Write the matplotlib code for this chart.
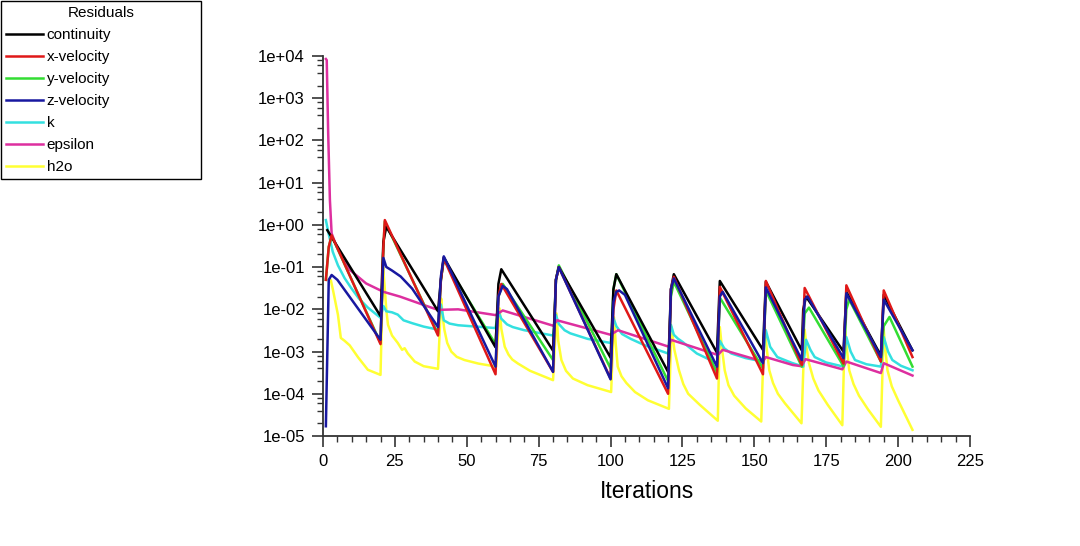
import matplotlib
matplotlib.use("Agg")
import matplotlib.pyplot as plt
from matplotlib.ticker import LogLocator, FuncFormatter, MultipleLocator, NullFormatter

# ---------------- data ----------------
series_names = ["continuity", "x-velocity", "y-velocity", "z-velocity", "k", "epsilon", "h2o"]
series_colors = ["#000000", "#e01818", "#33dd33", "#1818a0", "#33e0e0", "#dd2f9f", "#ffff33"]

cont_it = [1.5, 20, 21, 22, 40, 41, 42, 60, 61, 62, 80, 81, 82, 100, 101, 102, 120, 121, 122,
           137, 138, 153, 154, 166.5, 167, 168, 181, 182, 194, 195, 205]
cont_val = [0.75, 6.9e-3, 0.4, 0.9, 9e-3, 0.05, 0.17, 1.26e-3, 0.04, 0.089, 1.05e-3, 0.05, 0.1,
            7.2e-4, 0.03, 0.068, 3.3e-4, 0.03, 0.068, 9.4e-4, 0.047, 1.1e-3, 0.045,
            1.07e-3, 0.01, 0.02, 1e-3, 0.026, 8e-4, 0.022, 1.07e-3]

xvel_it = [1, 2, 3, 20, 21, 21.5, 40, 41, 42, 60, 61, 62, 80, 81, 82, 100, 101, 102, 120, 121, 122,
           137, 138, 153, 154, 166.5, 167.5, 181, 182, 194, 195, 205]
xvel_val = [0.05, 0.3, 0.57, 1.5e-3, 0.3, 1.3, 2.4e-3, 0.05, 0.16, 2.9e-4, 0.02, 0.04, 3.3e-4,
            0.05, 0.1, 2.3e-4, 0.01, 0.028, 1e-4, 0.03, 0.059, 2.3e-4, 0.034, 2.9e-4, 0.047,
            4.8e-4, 0.032, 5.2e-4, 0.037, 5.8e-4, 0.028, 7.4e-4]

yvel_it = [1, 2, 3, 20, 21, 21.5, 40, 41, 42, 60, 61, 62.5, 80, 81, 82, 100, 101, 102, 120, 121, 122,
           137, 138, 153, 154, 166.5, 167.5, 169, 181, 182, 183, 194, 195, 197, 205]
yvel_val = [0.05, 0.3, 0.55, 1.6e-3, 0.3, 1.2, 2.6e-3, 0.05, 0.15, 1.5e-3, 0.02, 0.04, 6.3e-4,
            0.05, 0.11, 4e-4, 0.03, 0.068, 2e-4, 0.02, 0.045, 3.2e-4, 0.019, 4e-4, 0.028,
            4.4e-4, 8e-3, 0.011, 4.5e-4, 0.01, 0.017, 5.8e-4, 4e-3, 6.6e-3, 4.4e-4]

zvel_it = [1, 2, 3, 5, 20, 21, 22, 24, 27, 31, 40, 41, 42, 60, 61, 62.5, 64, 80, 81, 82, 100, 101,
           102, 103, 105, 120, 121, 122, 137, 138, 139, 153, 154, 166.5, 167.5, 168.5, 181, 182, 194,
           195, 205]
zvel_val = [1.7e-5, 0.05, 0.065, 0.05, 1.9e-3, 0.165, 0.101, 0.083, 0.06, 0.031, 3.8e-3, 0.06,
            0.18, 4.4e-4, 0.02, 0.036, 0.03, 3.3e-4, 0.05, 0.1, 2.2e-4, 0.015, 0.026, 0.028, 0.022,
            1.35e-4, 0.03, 0.054, 4.4e-4, 0.02, 0.026, 5.3e-4, 0.033, 6.3e-4, 0.017, 0.02, 7e-4,
            0.024, 7.4e-4, 0.017, 1.07e-3]

k_it = [1, 2, 3.4, 5.2, 7.5, 9.8, 12.5, 15.6, 20, 21, 22, 24, 26, 28, 31, 35, 40, 41, 42, 44, 47,
        60, 61, 62, 64, 66, 70, 80, 81, 82, 84, 86, 92, 100, 101, 102, 104, 107, 112, 120, 121,
        122, 123.5, 125, 130, 137, 138, 139.5, 142, 147, 153, 154, 155.5, 158, 163, 167, 168, 169.5,
        171, 175, 181, 182, 183.5, 185, 189, 194, 195, 196.5, 198, 201, 205]
k_val = [1.3, 0.6, 0.23, 0.11, 0.055, 0.032, 0.018, 0.011, 6.3e-3, 0.012, 9e-3, 8.5e-3, 7.5e-3,
         5.5e-3, 4.7e-3, 3.9e-3, 3.3e-3, 0.013, 5.5e-3, 4.6e-3, 4.2e-3, 3.6e-3, 9e-3, 6e-3, 4.4e-3,
         3.8e-3, 3.2e-3, 2.4e-3, 7.4e-3, 4.5e-3, 3.2e-3, 2.7e-3, 2.0e-3, 1.6e-3, 6.2e-3, 4e-3,
         2.6e-3, 2e-3, 1.4e-3, 9e-4, 4.3e-3, 2.5e-3, 2.0e-3, 1.7e-3, 9e-4, 5.3e-4, 1.8e-3,
         1.2e-3, 9e-4, 7e-4, 5.8e-4, 3.2e-3, 1.3e-3, 7.4e-4, 5.4e-4, 4.4e-4, 1.9e-3, 1.1e-3,
         7.4e-4, 5.5e-4, 4.4e-4, 2.2e-3, 1.0e-3, 6.3e-4, 5e-4, 4.4e-4, 2.2e-3, 1.0e-3, 6.3e-4,
         4.6e-4, 3.6e-4]

eps_it = [1, 1.3, 1.8, 2.4, 3, 4.8, 9.4, 15, 21, 26.8, 35, 40, 47, 60, 62.5, 80, 81.4, 100, 102.6,
          120.3, 121, 137.3, 139, 153, 154, 163.4, 166.4, 167.8, 180.6, 182, 194, 195, 205]
eps_val = [8500, 8000, 150, 3.9, 0.63, 0.3, 0.085, 0.041, 0.026, 0.02, 0.0127, 0.0097, 0.01,
           7.3e-3, 9.4e-3, 4.1e-3, 5.5e-3, 2.5e-3, 3.2e-3, 1.3e-3, 1.9e-3, 8.3e-4, 1.1e-3,
           5.8e-4, 7.4e-4, 4.8e-4, 4.5e-4, 6.6e-4, 3.8e-4, 5.8e-4, 3.1e-4, 5.3e-4, 2.7e-4]

h2o_it = [2, 2.7, 3.5, 4.3, 5.2, 6.2, 7.5, 9.3, 12.2, 15.6, 20,
          20.9, 21.4, 22.0, 22.6, 24, 26, 27.5, 28.4, 29.5, 31.9, 35, 40,
          41.1, 41.6, 42.2, 43.2, 44.6, 46.5, 49.2, 54, 60.2,
          61.4, 62, 63.2, 64.5, 65.8, 67.8, 72, 80,
          81.2, 81.8, 82.9, 84.5, 86.9, 92, 100.2,
          101.2, 101.8, 102.5, 103.8, 105.5, 108.5, 113, 120.3,
          121.2, 122.2, 123.8, 125.3, 127, 131, 137.3,
          138, 138.8, 139.7, 141, 143, 147, 152.4,
          153.5, 154.3, 155.2, 156.5, 158.2, 160.6, 166.4,
          167.5, 168.2, 169, 170.5, 172.3, 175.5, 180.6,
          181.5, 182.2, 183, 184.5, 186.4, 189.5, 194,
          195, 195.6, 196.3, 197.8, 200, 205]
h2o_val = [0.05, 0.05, 0.028, 0.015, 7.4e-3, 2.1e-3, 1.8e-3, 1.4e-3, 7.3e-4, 3.7e-4, 2.8e-4,
           0.1, 0.037, 0.01, 4.3e-3, 2.4e-3, 1.6e-3, 1.1e-3, 1.2e-3, 9e-4, 5.8e-4, 4.5e-4, 3.9e-4,
           0.018, 7e-3, 3.3e-3, 1.6e-3, 1.0e-3, 7.5e-4, 6.3e-4, 5.2e-4, 4.4e-4,
           0.0105, 3.5e-3, 1.3e-3, 8.5e-4, 6.5e-4, 5.2e-4, 3.5e-4, 2.1e-4,
           8e-3, 1.8e-3, 6.3e-4, 3.5e-4, 2.3e-4, 1.6e-4, 1.1e-4,
           6.5e-3, 1.5e-3, 4.4e-4, 2.6e-4, 1.8e-4, 1.1e-4, 7e-5, 4.4e-5,
           3.8e-3, 1.1e-3, 3.6e-4, 1.7e-4, 1.0e-4, 5.5e-5, 2.3e-5,
           3.8e-3, 1.1e-3, 3.6e-4, 1.6e-4, 9e-5, 4.5e-5, 2.2e-5,
           4.6e-3, 1.2e-3, 3.6e-4, 1.8e-4, 1e-4, 6e-5, 2e-5,
           3.3e-3, 1.2e-3, 5.3e-4, 2.3e-4, 1.2e-4, 5.5e-5, 1.8e-5,
           3.8e-3, 1.1e-3, 3.6e-4, 1.7e-4, 9e-5, 4.3e-5, 1.65e-5,
           3.3e-3, 1.1e-3, 3.6e-4, 1.5e-4, 7e-5, 1.4e-5]

x_ticks = [0, 25, 50, 75, 100, 125, 150, 175, 200, 225]
x_label = "Iterations"
legend_title = "Residuals"

# ---------------- plot ----------------
plt.rcParams['font.family'] = ['Liberation Sans', 'DejaVu Sans']

fig = plt.figure(figsize=(10.8, 5.46), dpi=100)
ax = fig.add_axes([323 / 1080, 1 - 436 / 546, (970 - 323) / 1080, (436 - 56) / 546])

all_data = [(cont_it, cont_val), (xvel_it, xvel_val), (yvel_it, yvel_val), (zvel_it, zvel_val),
            (k_it, k_val), (eps_it, eps_val), (h2o_it, h2o_val)]
draw_order = [6, 4, 5, 2, 0, 1, 3]
lines = {}
for i in draw_order:
    xs, ys = all_data[i]
    ln, = ax.plot(xs, ys, color=series_colors[i], lw=1.8, label=series_names[i])
    lines[i] = ln

ax.set_yscale('log')
ax.set_xlim(0, 225)
ax.set_ylim(1e-5, 1e4)
ax.set_xticks(x_ticks)
ax.xaxis.set_minor_locator(MultipleLocator(5))
ax.yaxis.set_major_locator(LogLocator(base=10, numticks=20))
ax.yaxis.set_minor_locator(LogLocator(base=10, subs=(2, 4, 6, 8), numticks=20))
ax.yaxis.set_minor_formatter(NullFormatter())
ax.yaxis.set_major_formatter(FuncFormatter(lambda v, p: f"{v:.0e}"))

for s in ['top', 'right']:
    ax.spines[s].set_visible(False)
for s in ['left', 'bottom']:
    ax.spines[s].set_color('#333333')
    ax.spines[s].set_linewidth(1.3)

ax.tick_params(axis='both', which='major', length=8, width=1.2, color='#333333',
               labelsize=12, pad=5)
ax.tick_params(axis='both', which='minor', length=4, width=1.0, color='#333333')
ax.set_xlabel(x_label, fontsize=16.5, labelpad=8)

handles = [lines[i] for i in range(len(series_names))]
leg = fig.legend(handles, series_names, title=legend_title, loc='upper left',
                 bbox_to_anchor=(1 / 1080, 1 - 178 / 546, 200 / 1080, 177 / 546),
                 mode='expand', fontsize=11, title_fontsize=11, frameon=True,
                 fancybox=False, edgecolor='black', framealpha=1,
                 handlelength=2.4, handletextpad=0.25, labelspacing=0.52,
                 borderpad=0.35, borderaxespad=0)
leg.get_frame().set_linewidth(1.0)

fig.savefig("out.png", dpi=100)
